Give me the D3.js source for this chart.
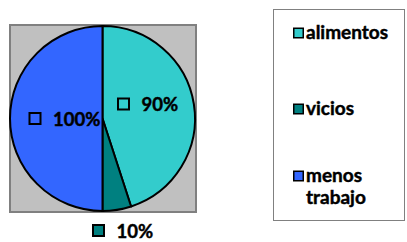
<!DOCTYPE html>
<html>
<head>
<meta charset="utf-8">
<script src="https://cdn.jsdelivr.net/npm/d3@7"></script>
<style>
  body { margin: 0; background: #fff; }
  text { font-family: Lato, "Open Sans", sans-serif; font-weight: bold; fill: #000; stroke: #000; stroke-width: 0.45px; }
</style>
</head>
<body>
<div id="chart"></div>
<script>
// chart data
const categories = ["alimentos", "vicios", "menos trabajo"];
const values = [90, 10, 100];
const valueLabels = ["90%", "10%", "100%"];
const colors = ["#33cccc", "#008080", "#3366ff"];

const width = 407;
const height = 242;

const svg = d3.select("#chart")
              .append("svg")
              .attr("width", width)
              .attr("height", height);

// plot area
svg.append("rect")
   .attr("x", 10)
   .attr("y", 25)
   .attr("width", 186)
   .attr("height", 187)
   .attr("fill", "#c0c0c0")
   .attr("stroke", "#808080")
   .attr("stroke-width", 2);

const cx = 102.5, cy = 118.5, r = 92.5;

const pie = d3.pie().sort(null).value((d) => d.value);
const arc = d3.arc().innerRadius(0).outerRadius(r);

const data = categories.map((c, i) => ({ name: c, value: values[i], label: valueLabels[i], color: colors[i] }));
const arcs = pie(data);

const g = svg.append("g").attr("transform", "translate(" + cx + "," + cy + ")");

g.selectAll("path")
 .data(arcs)
 .enter()
 .append("path")
 .attr("d", arc)
 .attr("fill", (d) => d.data.color)
 .attr("stroke", "#000")
 .attr("stroke-width", 2)
 .attr("stroke-linejoin", "round");

// data labels, positions
const labelPos = [
    { x: 123.5, y: 104 },
    { x: 98.5, y: 230.5 },
    { x: 35, y: 118.5 }
];

const lbl = svg.selectAll("g.lbl")
               .data(arcs)
               .enter()
               .append("g")
               .attr("class", "lbl")
               .attr("transform", (d, i) => "translate(" + labelPos[i].x + "," + labelPos[i].y + ")");

lbl.append("rect")
   .attr("x", -5.5)
   .attr("y", -5.5)
   .attr("width", 11)
   .attr("height", 11)
   .attr("fill", (d) => d.data.color)
   .attr("stroke", "#000")
   .attr("stroke-width", 2);

lbl.append("text")
   .attr("x", 18)
   .attr("y", 7)
   .style("font-size", "18.5px")
   .text((d) => d.data.label);

// legend
svg.append("rect")
   .attr("x", 273.5)
   .attr("y", 9.5)
   .attr("width", 131)
   .attr("height", 211)
   .attr("fill", "#fff")
   .attr("stroke", "#808080")
   .attr("stroke-width", 1);

const legendY = [33, 109, 176];

const leg = svg.selectAll("g.leg")
               .data(data)
               .enter()
               .append("g")
               .attr("class", "leg")
               .attr("transform", (d, i) => "translate(293," + legendY[i] + ")");

leg.append("rect")
   .attr("x", 0.75)
   .attr("y", -4.75)
   .attr("width", 9.5)
   .attr("height", 9.5)
   .attr("fill", (d) => d.color)
   .attr("stroke", "#000")
   .attr("stroke-width", 1.5);

leg.append("text")
   .attr("x", 13)
   .attr("y", 6)
   .style("font-size", "19px")
   .each(function (d) {
       const words = d.name.split(" ");
       const t = d3.select(this);
       words.forEach((w, j) => {
           t.append("tspan")
            .attr("x", 13)
            .attr("dy", j === 0 ? 0 : 22)
            .text(w);
       });
   });
</script>
</body>
</html>
